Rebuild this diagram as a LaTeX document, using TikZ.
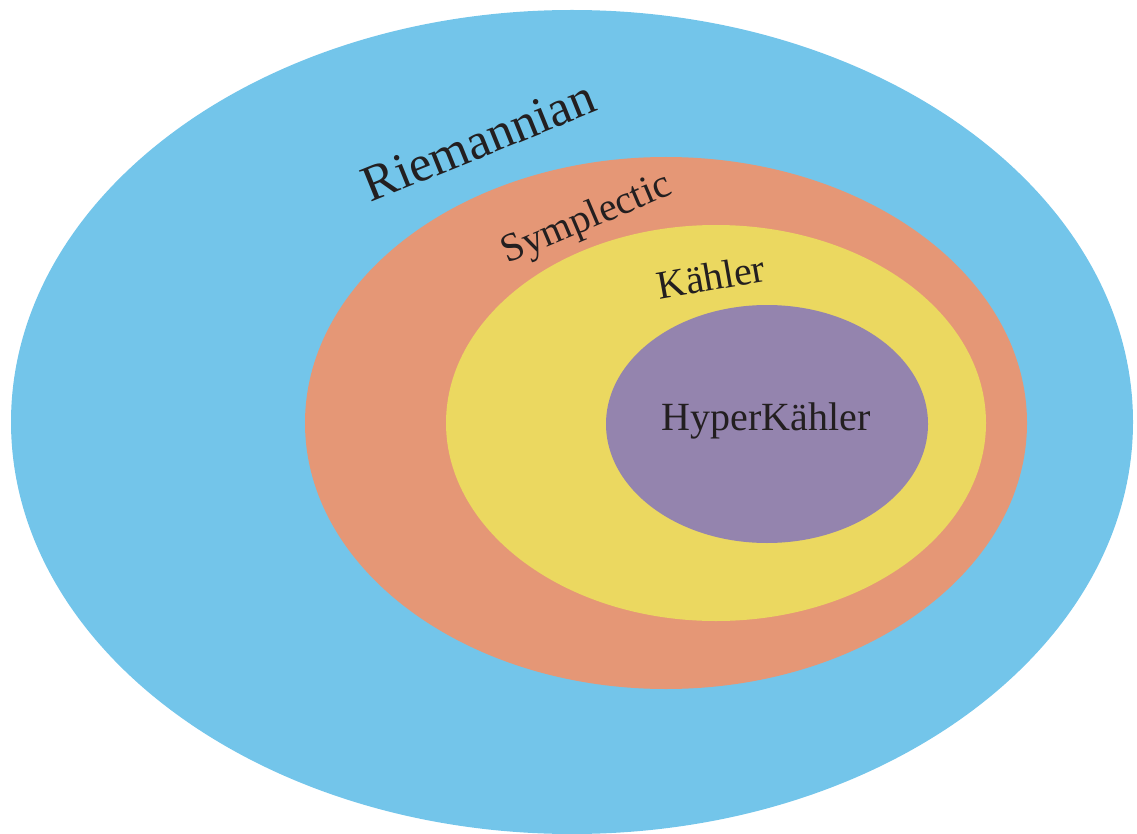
\documentclass[tikz,border=0pt]{standalone}
\usepackage{fontspec}
\setmainfont{Liberation Serif}
\definecolor{riemblue}{RGB}{115,197,234}
\definecolor{sympor}{RGB}{229,151,118}
\definecolor{kahyel}{RGB}{235,216,96}
\definecolor{hyppur}{RGB}{148,132,174}
\definecolor{txt}{RGB}{35,31,32}
\tikzset{lbl/.style={text=txt, inner sep=0pt}}
\begin{document}
\begin{tikzpicture}[x=1pt,y=-1pt]
\useasboundingbox (0,0) rectangle (1137,834);
\fill[riemblue] (572,422) ellipse [x radius=561, y radius=412];
\fill[sympor] (666,423) ellipse [x radius=361, y radius=266];
\fill[kahyel] (716,423) ellipse [x radius=270, y radius=198];
\fill[hyppur] (767,424) ellipse [x radius=161, y radius=119];
\node[lbl, rotate=22] (riem) at (479,141) {\fontsize{51}{60}\selectfont Riemannian};
\node[lbl, rotate=23] (symp) at (587,220) {\fontsize{40}{46}\selectfont Symplectic};
\node[lbl, rotate=10] (kah) at (711,277) {\fontsize{40}{46}\selectfont Kähler};
\node[lbl] (hyp) at (766,421) {\fontsize{40}{46}\selectfont HyperKähler};
\end{tikzpicture}
\end{document}
